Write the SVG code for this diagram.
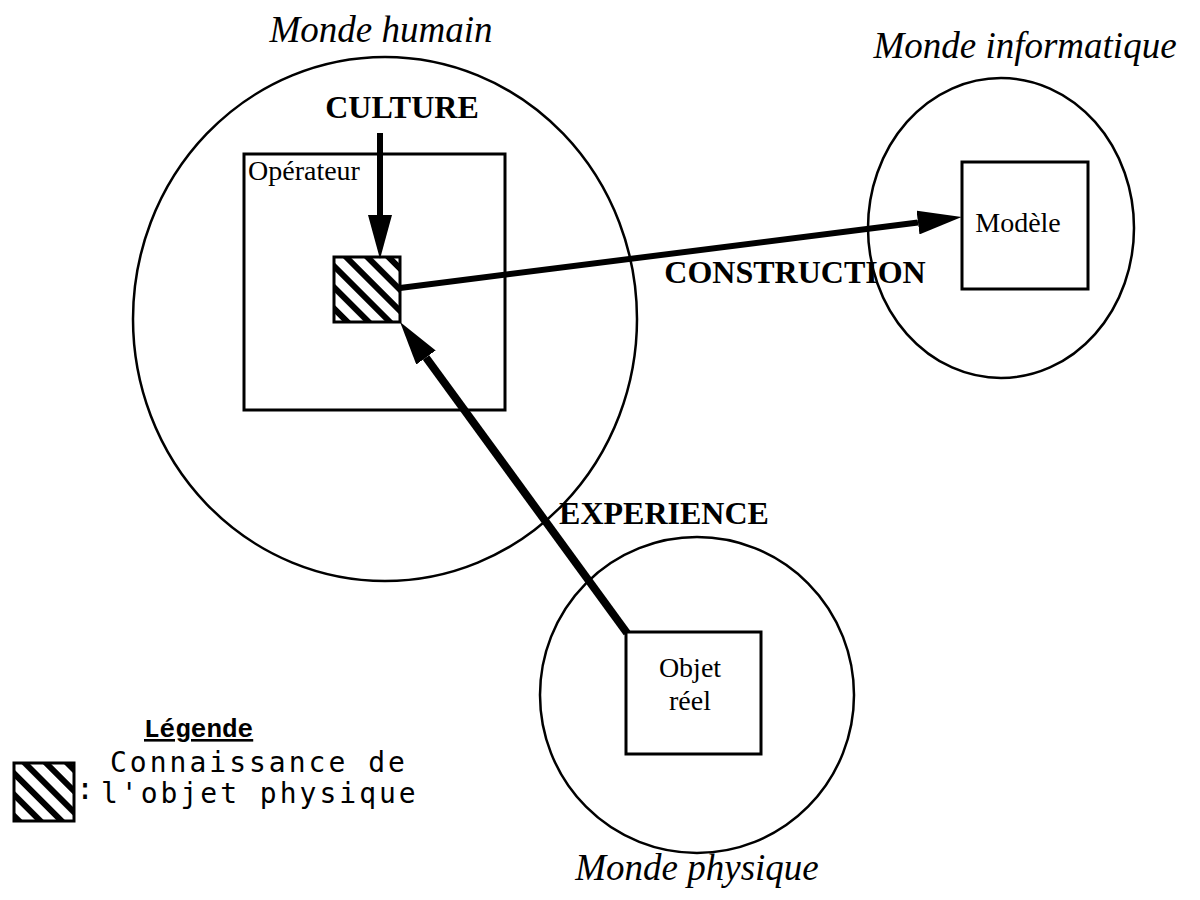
<svg xmlns="http://www.w3.org/2000/svg" width="1200" height="900" viewBox="0 0 1200 900">
<style>
.world{fill:none;stroke:#000;stroke-width:2.5}
.box{fill:#fff;stroke:#000;stroke-width:3}
.title{font-family:"Liberation Serif",serif;font-style:italic;font-size:37px;fill:#000}
.lbl{font-family:"Liberation Serif",serif;font-size:28px;fill:#000}
.big{font-family:"Liberation Serif",serif;font-weight:bold;font-size:32px;fill:#000}
.mono{font-family:"DejaVu Sans Mono",monospace;font-size:28px;letter-spacing:3px;fill:#000}
.leg{font-family:"Liberation Mono",monospace;font-weight:bold;font-size:26px;fill:#000;text-decoration:underline}
.arrow{stroke:#000;fill:none;marker-end:url(#head)}
</style>
<defs>
<pattern id="hatch" width="15" height="15" patternUnits="userSpaceOnUse" patternTransform="rotate(-45)">
<rect width="15" height="15" fill="#fff"/>
<rect width="6" height="15" fill="#000"/>
</pattern>
<marker id="head" markerUnits="userSpaceOnUse" markerWidth="44" markerHeight="24" refX="0" refY="12" orient="auto">
<path d="M0,0 L44,12 L0,24 z" fill="#000"/>
</marker>
</defs>

<g id="monde-humain">
<ellipse class="world" cx="385" cy="319" rx="252" ry="262"/>
<text class="title" x="381" y="42" text-anchor="middle">Monde humain</text>
</g>

<g id="operateur">
<rect class="box" x="244" y="154" width="261" height="256" fill="none"/>
<text class="lbl" x="248" y="180">Opérateur</text>
</g>

<g id="connaissance">
<rect x="334" y="257" width="66" height="65" fill="url(#hatch)" stroke="#000" stroke-width="3"/>
</g>

<g id="monde-informatique">
<ellipse class="world" cx="1001" cy="228" rx="133" ry="150"/>
<text class="title" x="1025" y="58" text-anchor="middle">Monde informatique</text>
</g>

<g id="modele">
<rect class="box" x="962" y="162" width="126" height="127"/>
<text class="lbl" x="1018" y="232" text-anchor="middle">Modèle</text>
</g>

<g id="monde-physique">
<ellipse class="world" cx="697" cy="695" rx="157" ry="158"/>
<text class="title" x="697" y="880" text-anchor="middle">Monde physique</text>
</g>

<g id="objet-reel">
<rect class="box" x="626" y="632" width="135" height="122"/>
<text class="lbl" x="690" y="677" text-anchor="middle">Objet</text>
<text class="lbl" x="690" y="710" text-anchor="middle">réel</text>
</g>

<g id="connectors">
<line class="arrow" x1="380" y1="133" x2="380" y2="215" stroke-width="6"/>
<line class="arrow" x1="400" y1="288" x2="918" y2="222.5" stroke-width="6"/>
<line class="arrow" x1="627" y1="633" x2="426" y2="357.5" stroke-width="8"/>
</g>

<g id="labels">
<text class="big" x="402" y="118" text-anchor="middle">CULTURE</text>
<text class="big" x="795" y="283" text-anchor="middle">CONSTRUCTION</text>
<text class="big" x="664" y="524" text-anchor="middle">EXPERIENCE</text>
</g>

<g id="legende">
<text class="leg" x="144" y="737">Légende</text>
<rect x="14" y="763" width="60" height="58" fill="url(#hatch)" stroke="#000" stroke-width="3"/>
<text class="mono" x="76" y="799" style="font-size:30px;letter-spacing:0">:</text>
<text class="mono" x="110" y="772">Connaissance de</text>
<text class="mono" x="101" y="803">l'objet physique</text>
</g>
</svg>
